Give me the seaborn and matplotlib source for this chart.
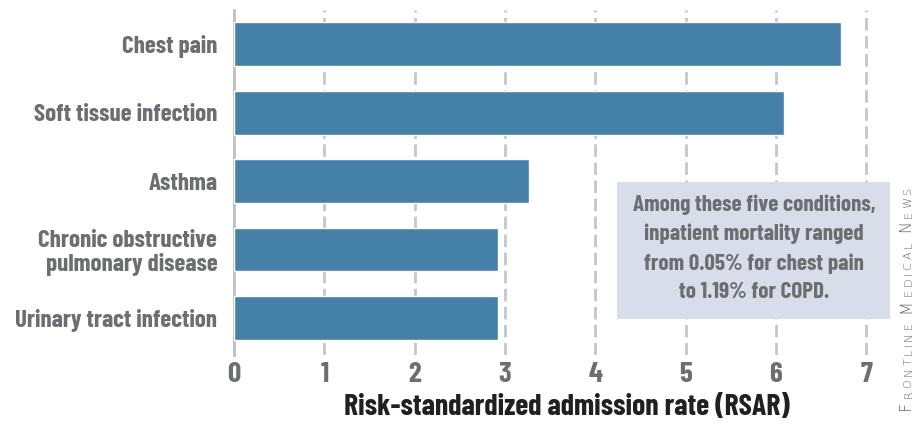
import seaborn as sns
import pandas as pd
import matplotlib.pyplot as plt
from matplotlib.patches import Rectangle

# values
conditions = ["Chest pain", "Soft tissue infection", "Asthma",
              "Chronic obstructive\npulmonary disease", "Urinary tract infection"]
rsar = [6.72, 6.09, 3.27, 2.92, 2.92]
x_ticks = [0, 1, 2, 3, 4, 5, 6, 7]
note = ("Among these five conditions,\ninpatient mortality ranged\n"
        "from 0.05% for chest pain\nto 1.19% for COPD.")
credit = "Frontline Medical News"

df = pd.DataFrame({"condition": conditions, "rsar": rsar})

sns.set_style("white")
plt.rcParams["font.family"] = ["Barlow Condensed", "DejaVu Sans"]

gray = "#6d6e71"
fig = plt.figure(figsize=(9.16, 4.28), dpi=100)
ax = fig.add_axes([0.2555, 0.1706, 0.727, 0.806])

sns.barplot(data=df, x="rsar", y="condition", color="#4580a8", saturation=1,
            width=0.64, ax=ax, zorder=3)

ax.set_xlim(0, 7.375)
ax.set_ylim(4.54, -0.5)
ax.set_xticks(x_ticks)
ax.set_xticklabels([str(t) for t in x_ticks], fontsize=21, fontweight="bold", color=gray)
ax.set_yticks(range(len(conditions)))
ax.set_yticklabels(conditions, fontsize=18, fontweight="bold", color=gray,
                   linespacing=1.1)
ax.tick_params(length=0)
ax.tick_params(axis="x", pad=5)
ax.tick_params(axis="y", pad=12)

for t in x_ticks[1:]:
    ax.axvline(t, color="#c6c6ca", lw=2, ls=(0, (4.5, 2)), zorder=1)

for s in ["top", "right", "bottom"]:
    ax.spines[s].set_visible(False)
ax.spines["left"].set_color("#c0c0c0")
ax.spines["left"].set_linewidth(2)

ax.set_xlabel("Risk-standardized admission rate (RSAR)", fontsize=21.5,
              fontweight="bold", color="#231f20", labelpad=5)
ax.set_ylabel("")

# note box
fig.patches.append(Rectangle((0.6736, 0.2547), 0.298, 0.320, transform=fig.transFigure,
                             fc="#d9dde9", ec="none", zorder=5))
fig.text(0.823, 0.420, note, ha="center", va="center", fontsize=16.6,
         fontweight="bold", color=gray, linespacing=1.55, zorder=6)

# small-caps credit line, running upwards at the right edge, letter by letter
prev = None
gap = 0
for ch in credit:
    if ch == " ":
        gap += 5
        continue
    size = 11.5 if ch.isupper() else 8.2
    txt = ch.upper()
    if prev is None:
        prev = fig.text(0.997, 0.042, txt, rotation=90, ha="right", va="bottom",
                        fontsize=size, color="#666666", family="DejaVu Sans",
                        fontweight="light")
    else:
        prev = ax.annotate(txt, xy=(1, 1), xycoords=prev, xytext=(0, gap + 1.9),
                           textcoords="offset points", rotation=90, ha="right",
                           va="bottom", fontsize=size, color="#666666",
                           family="DejaVu Sans", fontweight="light",
                           annotation_clip=False)
    gap = 0

fig.savefig("out.png", dpi=100)
